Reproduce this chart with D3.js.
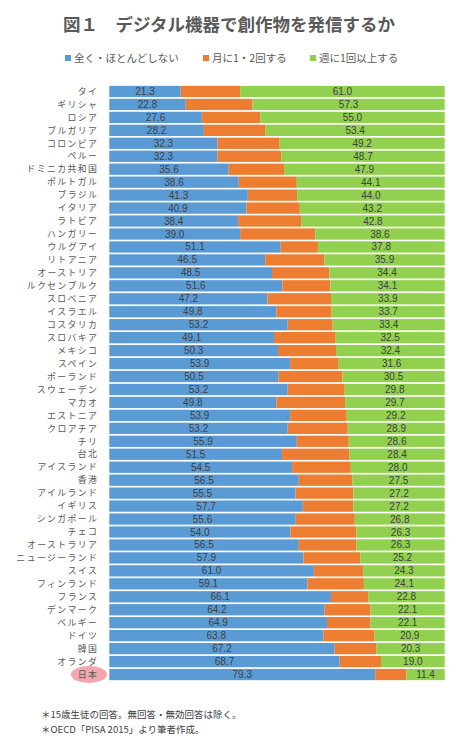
<!DOCTYPE html>
<html><head><meta charset="utf-8">
<script src="https://cdn.jsdelivr.net/npm/d3@7"></script>
<style>
body{margin:0;background:#fff;}
svg{display:block;font-family:"Noto Sans CJK JP","Noto Sans",sans-serif;}
</style></head>
<body><svg id="c" width="466" height="750"></svg>
<script>
const countries = ["タイ","ギリシャ","ロシア","ブルガリア","コロンビア","ペルー","ドミニカ共和国","ポルトガル","ブラジル","イタリア","ラトビア","ハンガリー","ウルグアイ","リトアニア","オーストリア","ルクセンブルク","スロベニア","イスラエル","コスタリカ","スロバキア","メキシコ","スペイン","ポーランド","スウェーデン","マカオ","エストニア","クロアチア","チリ","台北","アイスランド","香港","アイルランド","イギリス","シンガポール","チェコ","オーストラリア","ニュージーランド","スイス","フィンランド","フランス","デンマーク","ベルギー","ドイツ","韓国","オランダ","日本"];
const never = [21.3,22.8,27.6,28.2,32.3,32.3,35.6,38.6,41.3,40.9,38.4,39.0,51.1,46.5,48.5,51.6,47.2,49.8,53.2,49.1,50.3,53.9,50.5,53.2,49.8,53.9,53.2,55.9,51.5,54.5,56.5,55.5,57.7,55.6,54.0,56.5,57.9,61.0,59.1,66.1,64.2,64.9,63.8,67.2,68.7,79.3];
const monthly = [17.7,19.9,17.4,18.4,18.5,19.0,16.5,17.3,14.7,15.9,18.8,22.4,11.1,17.6,17.1,14.3,18.9,16.5,13.4,18.4,17.3,14.5,19.0,17.0,20.5,16.9,17.9,15.5,20.1,17.5,16.0,17.3,15.1,17.6,19.7,17.2,16.9,14.7,16.8,11.1,13.7,13.0,15.3,12.5,12.3,9.3];
const weekly = [61.0,57.3,55.0,53.4,49.2,48.7,47.9,44.1,44.0,43.2,42.8,38.6,37.8,35.9,34.4,34.1,33.9,33.7,33.4,32.5,32.4,31.6,30.5,29.8,29.7,29.2,28.9,28.6,28.4,28.0,27.5,27.2,27.2,26.8,26.3,26.3,25.2,24.3,24.1,22.8,22.1,22.1,20.9,20.3,19.0,11.4];
const seriesNames = ["全く・ほとんどしない","月に1・2回する","週に1回以上する"];
const colors = ["#5b9bd5","#ed7d31","#92d050"];
const title = "図１　デジタル機器で創作物を発信するか";
const notes = ["＊15歳生徒の回答。無回答・無効回答は除く。","＊OECD「PISA 2015」より筆者作成。"];
const highlight = "日本";

const svg = d3.select("#c");
const rows = countries.map((c,i)=>({c, v:[never[i],monthly[i],weekly[i]]}));
const x = d3.scaleLinear().domain([0,100]).range([109.3,444.7]);
const y = d3.scaleBand().domain(countries).range([85,681]).paddingInner(0.13).paddingOuter(0.065);

svg.append("text").attr("x",229).attr("y",31).attr("text-anchor","middle")
  .attr("font-size",17.5).attr("font-weight","bold").attr("fill","#595959").text(title);

// legend
const legX = [65,203,310];
seriesNames.forEach((n,i)=>{
  svg.append("rect").attr("x",legX[i]).attr("y",55).attr("width",6).attr("height",6).attr("fill",colors[i]);
  svg.append("text").attr("x",legX[i]+9).attr("y",62).attr("font-size",10.5).attr("fill","#595959").text(n);
});

// highlight ellipse
svg.append("ellipse").attr("cx",89).attr("cy",y(highlight)+y.bandwidth()/2).attr("rx",18).attr("ry",8.5).attr("fill","#f4a6ae");

const g = svg.append("g");
rows.forEach(r=>{
  let acc=0;
  r.v.forEach((v,i)=>{
    g.append("rect").attr("x",x(acc)).attr("y",y(r.c)).attr("width",x(acc+v)-x(acc)).attr("height",y.bandwidth()).attr("fill",colors[i]);
    if(i!==1){
      g.append("text").attr("x",(x(acc)+x(acc+v))/2).attr("y",y(r.c)+y.bandwidth()/2).attr("dy","0.35em")
        .attr("text-anchor","middle").attr("font-size",10).attr("font-family","'Liberation Sans',Arial,sans-serif")
        .attr("fill","#404040").text(v.toFixed(1));
    }
    acc+=v;
  });
});

const yAxis = d3.axisLeft(y).tickSize(0).tickPadding(0);
const ax = svg.append("g").attr("transform","translate(98.4,0)").call(yAxis);
ax.select(".domain").remove();
ax.selectAll("text").attr("font-size",8.9).attr("letter-spacing","1.4px").attr("fill","#595959")
  .attr("font-family","'Noto Sans CJK JP',sans-serif").attr("dy","0.36em");

notes.forEach((t,i)=>{
  svg.append("text").attr("x",41).attr("y",718+i*15).attr("font-size",9.5).attr("fill","#404040").text(t);
});
</script></body></html>
